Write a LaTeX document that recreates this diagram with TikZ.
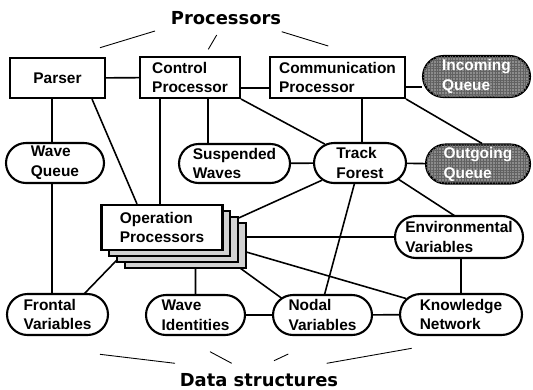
\documentclass[tikz,border=0pt]{standalone}
\usepackage{fontspec}
\setmainfont{Liberation Sans}
\newfontfamily\headfont{DejaVu Sans}
\usetikzlibrary{shapes.misc,calc,backgrounds,patterns.meta}
\tikzset{
  box/.style={draw,line width=1.2pt,fill=white,inner sep=0pt,align=left,
    font=\fontsize{8.8}{11.3}\selectfont\bfseries},
  pill/.style={box,rounded rectangle},
  queue/.style={pill,fill=black!45,text=white,
    postaction={pattern={Lines[distance=1.6pt,angle=0,line width=0.25pt]},pattern color=black!62},
    postaction={pattern={Lines[distance=1.6pt,angle=90,line width=0.25pt]},pattern color=black!62}},
  link/.style={line width=0.9pt},
  hint/.style={line width=0.5pt},
  head/.style={anchor=base,font=\headfont\fontsize{10.2}{12}\selectfont\bfseries}
}
\begin{document}
\begin{tikzpicture}[x=0.02cm,y=-0.02cm]
\useasboundingbox (0,0) rectangle (533,389);
\node[head] (procs) at (226,24) {Processors};
\node[head] (data) at (259,386) {Data structures};

\node[box,minimum width=1.9cm,minimum height=0.8cm] (parser) at (57.5,78) {Parser};
\node[box,minimum width=2cm,minimum height=0.82cm] (control) at (190,77.5) {Control\\Processor};
\node[box,minimum width=2.7cm,minimum height=0.82cm] (comm) at (337.5,77.5) {Communication\\Processor};
\node[queue,minimum width=2.14cm,minimum height=0.82cm] (incoming) at (476.5,76.5) {Incoming\\Queue};

\node[pill,minimum width=1.96cm,minimum height=0.8cm] (wq) at (55,163) {Wave\\Queue};
\node[pill,minimum width=2.22cm,minimum height=0.78cm] (susp) at (234.5,163.5) {Suspended\\Waves};
\node[pill,minimum width=1.84cm,minimum height=0.8cm] (track) at (360,163) {Track\\Forest};
\node[queue,minimum width=2.08cm,minimum height=0.78cm] (outgoing) at (478,164) {Outgoing\\Queue};

\foreach \k in {3,2,1}
  \node[box,fill=black!18,minimum width=2.42cm,minimum height=0.9cm] (op\k) at ({162+7.7*\k},{227.5+6*\k}) {};
\node[box,minimum width=2.42cm,minimum height=0.9cm] (oproc) at (162,227.5) {Operation\\Processors};
\node[pill,minimum width=2.56cm,minimum height=0.84cm] (env) at (459,237) {Environmental\\Variables};

\node[pill,minimum width=2.02cm,minimum height=0.82cm] (frontal) at (57.5,314.5) {Frontal\\Variables};
\node[pill,minimum width=1.98cm,minimum height=0.8cm] (waveid) at (195.5,315) {Wave\\Identities};
\node[pill,minimum width=1.98cm,minimum height=0.8cm] (nodal) at (322.5,315) {Nodal\\Variables};
\node[pill,minimum width=2.44cm,minimum height=0.82cm] (knowledge) at (461,314.5) {Knowledge\\Network};

\begin{scope}[on background layer]
\draw[link] (parser) -- (control);
\draw[link] ($(control.east)+(0,10.5)$) -- ($(comm.west)+(0,10.5)$);
\draw[link] ($(comm.east)+(0,9.5)$) -- ($(incoming.west)+(0,10.5)$);
\draw[link] ($(parser.south)+(-5.5,0)$) -- ($(wq.north)+(-3,0)$);
\draw[link] ($(parser.south)+(34.5,0)$) -- ($(oproc.north)+(-25,0)$);
\draw[link] ($(control.south)+(-30,0)$) -- ($(oproc.north)+(-2,0)$);
\draw[link] ($(control.south)+(18,0)$) -- ($(susp.north)+(-26.5,0)$);
\draw[link] (control.south east) -- (track);
\draw[link] ($(comm.south)+(24.5,0)$) -- ($(track.north)+(2,0)$);
\draw[link] (comm.south east) -- ($(outgoing.north)+(4,0)$);
\draw[link] (susp) -- (track);
\draw[link] (track) -- (outgoing);
\draw[link] ($(wq.south)+(-3,0)$) -- ($(frontal.north)+(-5.5,0)$);
\draw[link] (track) -- ($(oproc)+(38,8)$);
\draw[link] ($(track)+(27,8.8)$) -- ($(env)+(4,-15.8)$);
\draw[link] (env) -- (env -| oproc);
\draw[link] (knowledge) -- (knowledge |- env);
\draw[link] (knowledge) -- (oproc);
\draw[link] ($(nodal)+(-22.5,-3.5)$) -- ($(oproc)+(58,26)$);
\draw[link] (waveid) -- (waveid |- oproc);
\draw[link] ($(frontal)+(17.5,-11.2)$) -- ($(oproc)+(-32,19)$);
\draw[link] (track) -- ($(nodal)+(-3.5,0)$);
\draw[link] (waveid) -- (nodal);
\draw[link] (nodal) -- (knowledge);
\end{scope}

\draw[hint] (100,47.7) -- (155,31);
\draw[hint] (208.3,49.3) -- (216.7,35);
\draw[hint] (281.7,31.7) -- (328.3,46);
\draw[hint] (100,354.3) -- (175,363.3);
\draw[hint] (210,351.7) -- (231.7,363.3);
\draw[hint] (288.3,354) -- (274,360.7);
\draw[hint] (411.7,348.3) -- (326.7,363.3);
\end{tikzpicture}
\end{document}
